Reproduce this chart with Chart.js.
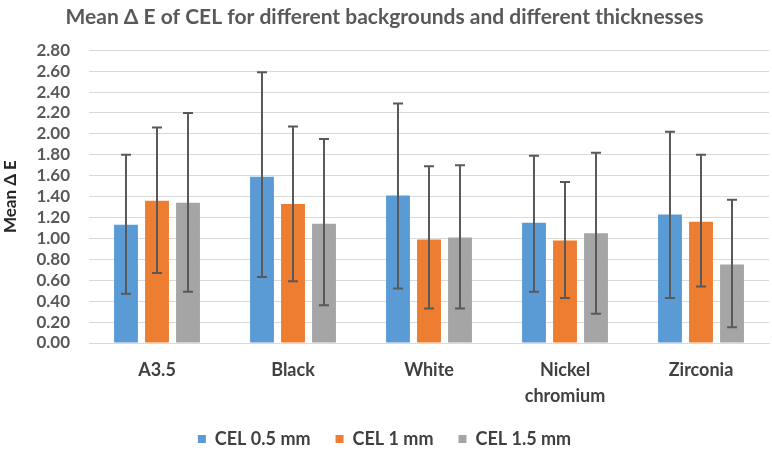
<!DOCTYPE html>
<html>
<head>
<meta charset="utf-8">
<script src="https://cdn.jsdelivr.net/npm/chart.js@4"></script>
<style>
html,body{margin:0;padding:0;background:#fff;}
#wrap{width:772px;height:450px;}
</style>
</head>
<body>
<div id="wrap"><canvas id="c" width="772" height="450"></canvas></div>
<script>
const categories = ["A3.5", "Black", "White", ["Nickel", "chromium"], "Zirconia"];
const seriesNames = ["CEL 0.5 mm", "CEL 1 mm", "CEL 1.5 mm"];
const cel05 = [1.13, 1.59, 1.41, 1.15, 1.23];
const cel1 = [1.36, 1.33, 0.99, 0.98, 1.16];
const cel15 = [1.34, 1.14, 1.01, 1.05, 0.75];
const cel05Hi = [1.80, 2.59, 2.29, 1.79, 2.02];
const cel05Lo = [0.47, 0.63, 0.52, 0.49, 0.43];
const cel1Hi = [2.06, 2.07, 1.69, 1.54, 1.80];
const cel1Lo = [0.67, 0.59, 0.33, 0.43, 0.54];
const cel15Hi = [2.20, 1.95, 1.70, 1.82, 1.37];
const cel15Lo = [0.49, 0.36, 0.33, 0.28, 0.15];
const yMax = 2.8;
const yStep = 0.2;

const colors = ["#5B9BD5", "#ED7D31", "#A5A5A5"];
const errHi = [cel05Hi, cel1Hi, cel15Hi];
const errLo = [cel05Lo, cel1Lo, cel15Lo];
const values = [cel05, cel1, cel15];

const errorBars = {
  id: 'errorBars',
  afterDatasetsDraw(chart) {
    const ctx = chart.ctx;
    const y = chart.scales.y;
    ctx.save();
    ctx.strokeStyle = '#595959';
    ctx.lineWidth = 2;
    chart.data.datasets.forEach((ds, di) => {
      const meta = chart.getDatasetMeta(di);
      meta.data.forEach((bar, i) => {
        const x = bar.x;
        const yh = y.getPixelForValue(errHi[di][i]);
        const yl = y.getPixelForValue(errLo[di][i]);
        ctx.beginPath();
        ctx.moveTo(x, yh); ctx.lineTo(x, yl);
        ctx.moveTo(x - 5, yh); ctx.lineTo(x + 5, yh);
        ctx.moveTo(x - 5, yl); ctx.lineTo(x + 5, yl);
        ctx.stroke();
      });
    });
    ctx.restore();
  }
};

new Chart(document.getElementById('c'), {
  type: 'bar',
  data: {
    labels: categories,
    datasets: seriesNames.map((n, i) => ({
      label: n,
      data: values[i],
      backgroundColor: colors[i],
      borderWidth: 0,
      categoryPercentage: 0.684,
      barPercentage: 0.77
    }))
  },
  options: {
    responsive: false,
    animation: false,
    devicePixelRatio: 1,
    layout: { padding: { left: 0, right: 3, top: 0, bottom: -8 } },
    plugins: {
      title: {
        display: true,
        text: 'Mean Δ E of CEL for different backgrounds and different thicknesses',
        color: '#595959',
        font: { family: 'Lato', size: 21, weight: 'bold' },
        padding: { top: 5, bottom: 20 }
      },
      legend: {
        position: 'bottom',
        labels: {
          boxWidth: 8, boxHeight: 8,
          color: '#404040',
          font: { family: 'Lato', size: 18, weight: 'bold' },
          padding: 25
        }
      },
      tooltip: { enabled: false }
    },
    scales: {
      x: {
        grid: { display: false },
        border: { display: true, color: '#D9D9D9', width: 1 },
        ticks: {
          color: '#404040',
          font: { family: 'Lato', size: 18, weight: 'bold', lineHeight: 1.4 },
          padding: 7,
          maxRotation: 0,
          autoSkip: false
        },
        afterFit(s) { s.height = 62; }
      },
      y: {
        min: 0, max: yMax,
        grid: { color: '#D9D9D9', drawTicks: false },
        border: { display: false },
        ticks: {
          stepSize: yStep,
          autoSkip: false,
          color: '#595959',
          padding: 19,
          font: { family: 'Lato', size: 17, weight: 'bold' },
          callback: v => Number(v).toFixed(2)
        },
        title: {
          display: true,
          text: 'Mean Δ E',
          color: '#262626',
          font: { family: 'Lato', size: 17, weight: 'bold' },
          padding: { top: 0, bottom: 6 }
        },
        afterFit(s) { s.width = 89; }
      }
    }
  },
  plugins: [errorBars]
});
</script>
</body>
</html>
